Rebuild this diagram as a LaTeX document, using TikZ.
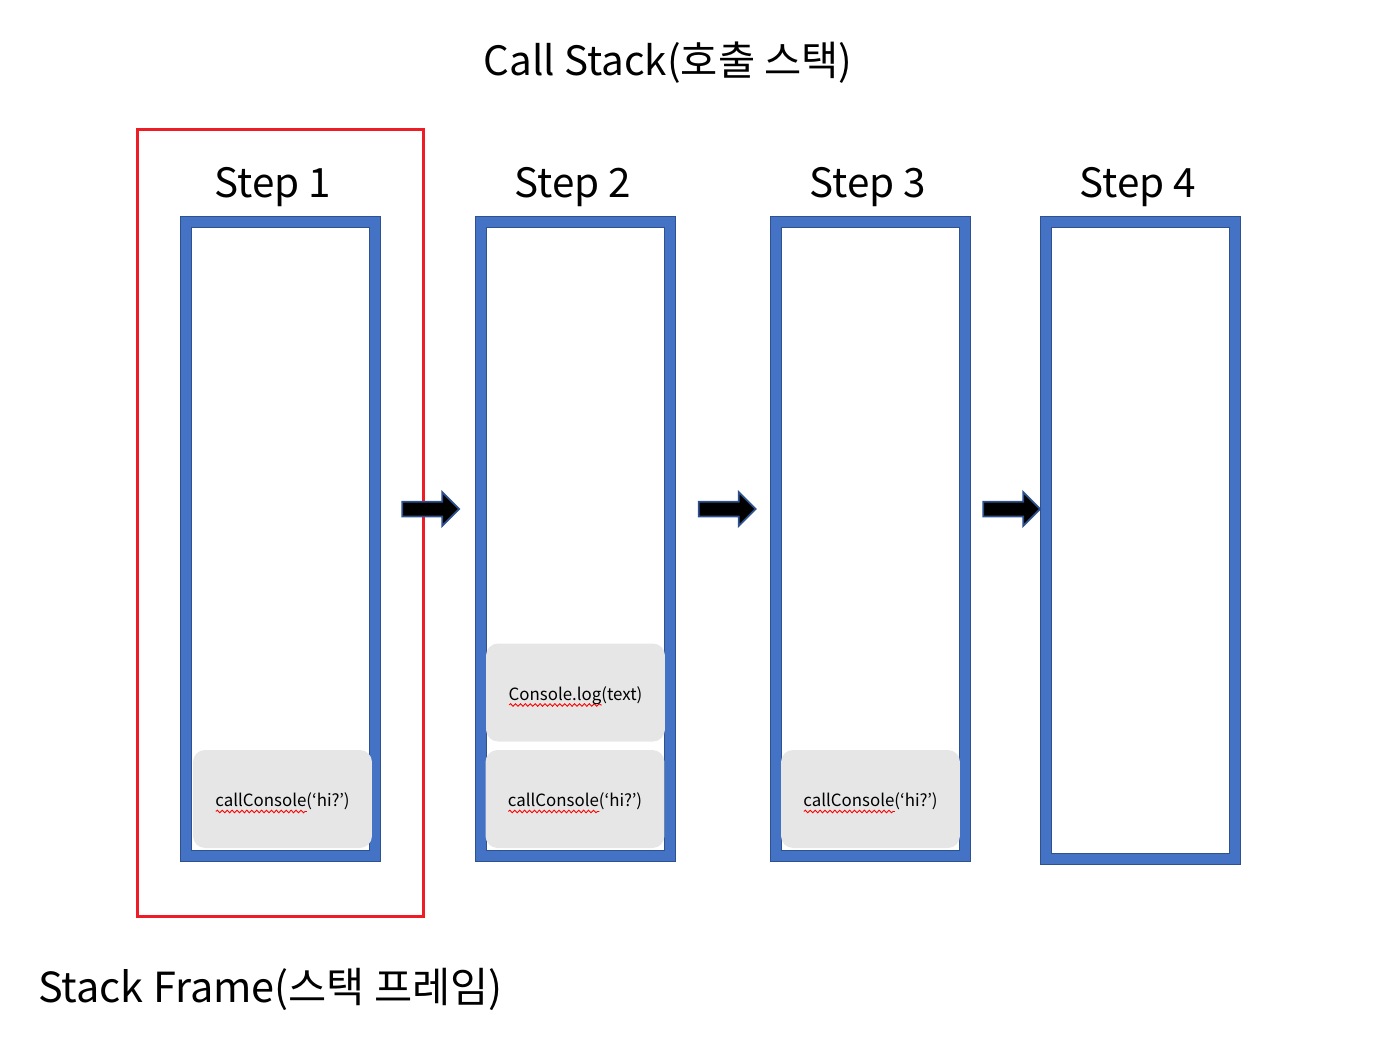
\documentclass[tikz,border=0pt]{standalone}
\usepackage{fontspec}
\setmainfont{Noto Sans CJK KR}
\usetikzlibrary{shapes.arrows, decorations.pathmorphing}
\definecolor{pileBleu}{HTML}{4472C4}
\definecolor{pileBord}{HTML}{2F528F}
\definecolor{appelGris}{HTML}{E7E6E6}
\definecolor{cadreRouge}{HTML}{EE1C25}
\tikzset{
  pile/.style={rectangle, draw=pileBord, line width=0.6pt, double=pileBleu, double distance=0.2cm,
    minimum width=3.78cm, minimum height=12.68cm, inner sep=0pt},
  appel/.style={rectangle, fill=appelGris, rounded corners=0.24cm, minimum width=3.58cm,
    minimum height=1.96cm, text height=10.8pt, text depth=2pt, font=\fontsize{9.6}{11}\selectfont},
  fleche/.style={single arrow, fill=black, draw=pileBord, line width=1pt, minimum width=0.64cm,
    minimum height=1.14cm, single arrow head extend=0.19cm, inner xsep=0pt, inner ysep=0.13cm},
  grand/.style={font=\fontsize{23}{28}\selectfont},
  vague/.style={draw=red, fill=none, sharp corners, line width=0.5pt, decorate,
    decoration={snake, amplitude=0.75pt, segment length=2.8pt}}
}
% soulignement ondule rouge (correcteur)
\newlength{\motlong}
\newcommand{\ondule}[1]{\settowidth{\motlong}{#1}%
  \rlap{\tikz[baseline=0pt]\path[vague] (0pt,-2.7pt) -- (\motlong,-2.7pt);}#1}

\begin{document}
\begin{tikzpicture}[x=0.02cm, y=-0.02cm]
  \useasboundingbox (0,0) rectangle (1378,1058);
  % Titre
  \node[grand] (titre) at (668,63) {Call Stack(호출 스택)};
  % Cadre de la pile (Stack Frame)
  \node[draw=cadreRouge, line width=1.8pt, minimum width=5.72cm, minimum height=15.74cm] (cadre) at (280.5,523) {};
  \node[grand, font=\fontsize{23.6}{28}\selectfont, anchor=west] (legende) at (32,989) {Stack Frame(스택 프레임)};
  % Les quatre piles
  \node[pile] (pile1) at (280.5,539) {};
  \node[pile] (pile2) at (575.5,539) {};
  \node[pile] (pile3) at (870.5,539) {};
  \node[pile, minimum height=12.74cm] (pile4) at (1140.5,540.5) {};
  % Etapes
  \node[grand] (etape1) at (273,187) {Step 1};
  \node[grand] (etape2) at (573,187) {Step 2};
  \node[grand] (etape3) at (868,187) {Step 3};
  \node[grand] (etape4) at (1138,187) {Step 4};
  % Appels empiles
  \node[appel] (appel1) at (282.5,799) {\ondule{callConsole}(‘hi?’)};
  \node[appel] (appel2) at (575,799) {\ondule{callConsole}(‘hi?’)};
  \node[appel] (log2) at (575.5,692.5) {\ondule{Console.log}(text)};
  \node[appel] (appel3) at (870.5,799) {\ondule{callConsole}(‘hi?’)};
  % Fleches entre les etapes
  \node[fleche] (fleche1) at (427,509) {};
  \node[fleche] (fleche2) at (723.5,509) {};
  \node[fleche] (fleche3) at (1008,509) {};
\end{tikzpicture}
\end{document}
